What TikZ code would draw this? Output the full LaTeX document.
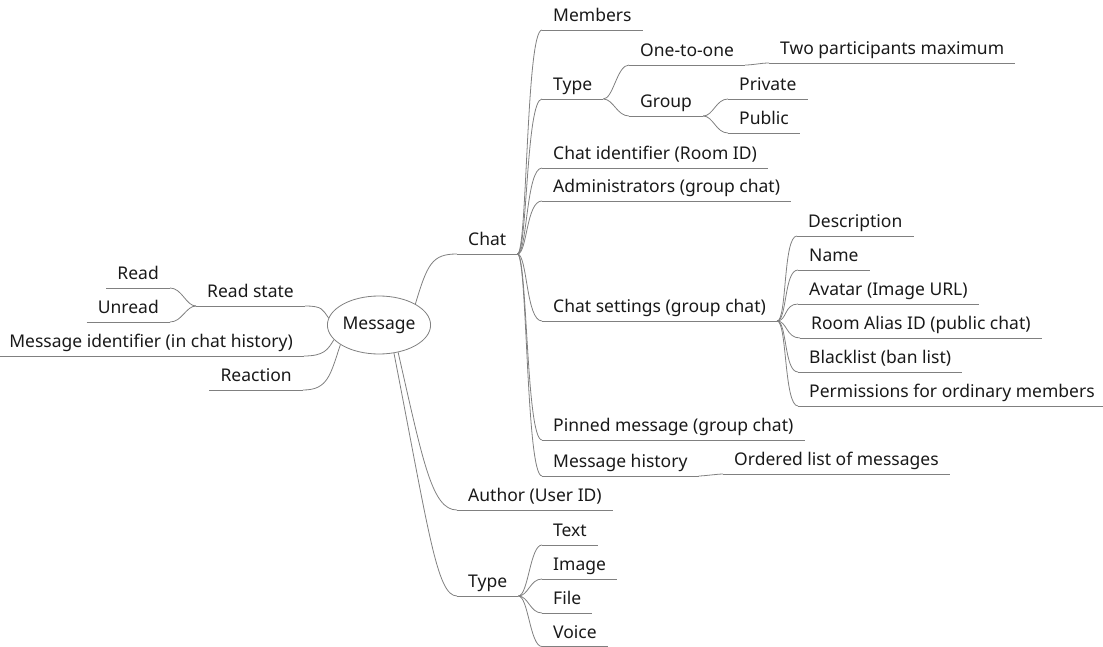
\documentclass[tikz,border=0pt]{standalone}
\usepackage{fontspec}
\setmainfont{Noto Sans}
\usetikzlibrary{shapes.geometric,positioning}

\begin{document}
\begin{tikzpicture}[x=1pt,y=-1pt,
  every node/.style={font=\fontsize{17.5}{20}\selectfont, text=black!90},
  topic/.style={anchor=south west, inner xsep=11pt, inner ysep=3pt, text height=13pt, text depth=5pt},
  ltopic/.style={topic, anchor=south east},
  wire/.style={draw=black!50, line width=0.8pt}]
  \useasboundingbox (0,0) rectangle (1103,647);

  % centre
  \node[ellipse, draw=black!50, line width=0.8pt, minimum width=100pt, minimum height=58pt, inner sep=0pt] (message) at (379,325) {Message};

  % right side
  \node[topic] (chat) at (457,254) {Chat};
  \node[topic] (members) at (542,30) {Members};
  \node[topic] (ctype) at (542,99) {Type};
  \node[topic] (onetoone) at (629,65) {One-to-one};
  \node[topic] (twopart) at (769,63) {Two participants maximum};
  \node[topic] (group) at (629,116) {Group};
  \node[topic] (private) at (728,99) {Private};
  \node[topic] (public) at (728,133) {Public};
  \node[topic] (chatid) at (542,168) {Chat identifier (Room ID)};
  \node[topic] (admins) at (542,201) {Administrators (group chat)};
  \node[topic] (settings) at (542,321) {Chat settings (group chat)};
  \node[topic] (desc) at (797,236) {Description};
  \node[topic] (name) at (798,270) {Name};
  \node[topic] (avatar) at (798,304) {Avatar (Image URL)};
  \node[topic] (alias) at (800,338) {Room Alias ID (public chat)};
  \node[topic] (blacklist) at (798,372) {Blacklist (ban list)};
  \node[topic] (perms) at (798,406) {Permissions for ordinary members};
  \node[topic] (pinned) at (542,440) {Pinned message (group chat)};
  \node[topic] (history) at (542,476) {Message history};
  \node[topic] (ordered) at (723,474) {Ordered list of messages};
  \node[topic] (author) at (457,510) {Author (User ID)};
  \node[topic] (mtype) at (457,596) {Type};
  \node[topic] (text) at (542,545) {Text};
  \node[topic] (image) at (542,579) {Image};
  \node[topic] (file) at (542,613) {File};
  \node[topic] (voice) at (542,646.5) {Voice};

  % left side
  \node[ltopic] (readstate) at (305,306) {Read state};
  \node[ltopic] (read) at (170,288) {Read};
  \node[ltopic] (unread) at (170,322) {Unread};
  \node[ltopic] (msgid) at (304,356) {Message identifier (in chat history)};
  \node[ltopic] (reaction) at (303,390) {Reaction};

  % underlines
  \foreach \n in {chat,members,ctype,onetoone,twopart,group,private,public,chatid,admins,
    settings,desc,name,avatar,alias,blacklist,perms,pinned,history,ordered,author,mtype,
    text,image,file,voice,readstate,read,unread,msgid,reaction}
    \draw[wire] (\n.south west) -- (\n.south east);

  % branches
  \draw[wire] (message.30) .. controls +(12,-40) and +(-25,0) .. (chat.south west);
  \draw[wire] (message.-55) .. controls +(25,110) and +(-25,0) .. (author.south west);
  \draw[wire] (message.-62) .. controls +(35,180) and +(-20,0) .. (mtype.south west);
  \draw[wire] (message.172) .. controls +(-6,-8) and +(18,0) .. (readstate.south east);
  \draw[wire] (message.198) .. controls +(-6,10) and +(20,0) .. (msgid.south east);
  \draw[wire] (message.207) .. controls +(-10,30) and +(25,0) .. (reaction.south east);

  \foreach \n in {members,ctype,chatid,admins,settings,pinned,history}
    \draw[wire] (chat.south east) .. controls +(10,0) and +(-16,0) .. (\n.south west);
  \foreach \n in {onetoone,group}
    \draw[wire] (ctype.south east) .. controls +(10,0) and +(-12,0) .. (\n.south west);
  \foreach \n in {private,public}
    \draw[wire] (group.south east) .. controls +(10,0) and +(-12,0) .. (\n.south west);
  \foreach \n in {desc,name,avatar,alias,blacklist,perms}
    \draw[wire] (settings.south east) .. controls +(10,0) and +(-14,0) .. (\n.south west);
  \foreach \n in {text,image,file,voice}
    \draw[wire] (mtype.south east) .. controls +(10,0) and +(-12,0) .. (\n.south west);
  \foreach \n in {read,unread}
    \draw[wire] (readstate.south west) .. controls +(-10,0) and +(12,0) .. (\n.south east);
  \draw[wire] (onetoone.south east) .. controls +(8,0) and +(-8,0) .. (twopart.south west);
  \draw[wire] (history.south east) .. controls +(5,0) and +(-5,0) .. (ordered.south west);
\end{tikzpicture}
\end{document}
